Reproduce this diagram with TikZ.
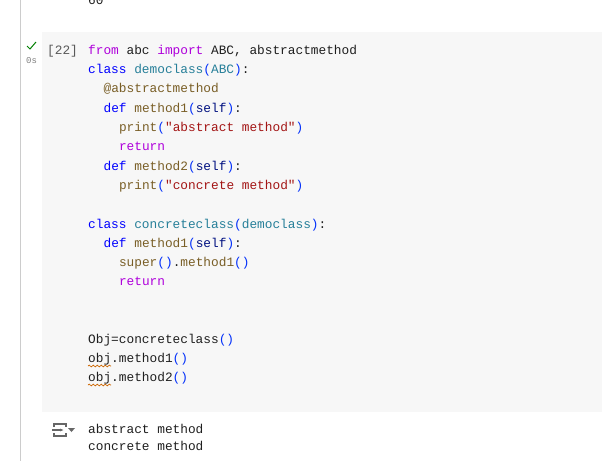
\documentclass[tikz,border=0pt]{standalone}
\usepackage{fontspec}
\setmainfont{Liberation Sans}
\newfontfamily\codefont{Liberation Mono}
\usetikzlibrary{decorations.pathmorphing,arrows.meta}
\definecolor{kwp}{HTML}{AF00DB}
\definecolor{kwb}{HTML}{0000FF}
\definecolor{cls}{HTML}{267F99}
\definecolor{deco}{HTML}{795E26}
\definecolor{strc}{HTML}{A31515}
\definecolor{par}{HTML}{0431FA}
\definecolor{slf}{HTML}{001080}
\definecolor{txt}{HTML}{1F1F1F}
\definecolor{cellbg}{HTML}{F7F7F7}
\newcommand{\Kp}[1]{\textcolor{kwp}{#1}}
\newcommand{\Kb}[1]{\textcolor{kwb}{#1}}
\newcommand{\Cl}[1]{\textcolor{cls}{#1}}
\newcommand{\Dc}[1]{\textcolor{deco}{#1}}
\newcommand{\St}[1]{\textcolor{strc}{#1}}
\newcommand{\Pa}[1]{\textcolor{par}{#1}}
\newcommand{\Sf}[1]{\textcolor{slf}{#1}}
\begin{document}
\begin{tikzpicture}[x=1pt,y=-1pt,
  code/.style={anchor=base west,inner sep=0pt,font=\codefont\fontsize{12.8}{14}\selectfont,text=txt},
  squig/.style={draw=orange!80!black,line width=0.7pt,decorate,decoration={snake,amplitude=0.9pt,segment length=4pt}}]
\useasboundingbox (0,0) rectangle (602,461);
\fill[white] (0,0) rectangle (602,461);
\draw[gray!40,line width=1pt] (20,0) -- (20,461);
\fill[cellbg] (42,32) rectangle (602,412);
\node[code] (prev) at (88,4) {60};
\draw[green!50!black,line width=1pt] (27,46) -- (30,49) -- (36,42);
\node[anchor=base west,inner sep=0pt,font=\codefont\fontsize{9}{10}\selectfont,text=gray] (tm) at (26,63) {0s};
\node[code,text=gray!70!black] (num) at (47,54) {[22]};
\node[code] (l1) at (88,54) {\Kp{from} abc \Kp{import} ABC, abstractmethod};
\node[code] (l2) at (88,73) {\Kb{class} \Cl{democlass}\Pa{(}\Cl{ABC}\Pa{)}:};
\node[code] (l3) at (103.4,92) {\Dc{@abstractmethod}};
\node[code] (l4) at (103.4,112) {\Kb{def} \Dc{method1}\Pa{(}\Sf{self}\Pa{)}:};
\node[code] (l5) at (118.8,131) {\Dc{print}\Pa{(}\St{"abstract method"}\Pa{)}};
\node[code] (l6) at (118.8,150) {\Kp{return}};
\node[code] (l7) at (103.4,170) {\Kb{def} \Dc{method2}\Pa{(}\Sf{self}\Pa{)}:};
\node[code] (l8) at (118.8,189) {\Dc{print}\Pa{(}\St{"concrete method"}\Pa{)}};
\node[code] (l10) at (88,228) {\Kb{class} \Cl{concreteclass}\Pa{(}\Cl{democlass}\Pa{)}:};
\node[code] (l11) at (103.4,247) {\Kb{def} \Dc{method1}\Pa{(}\Sf{self}\Pa{)}:};
\node[code] (l12) at (118.8,266) {\Dc{super}\Pa{()}.\Dc{method1}\Pa{()}};
\node[code] (l13) at (118.8,285) {\Kp{return}};
\node[code] (l16) at (88,343) {Obj=concreteclass\Pa{()}};
\node[code] (l17) at (88,362) {obj.method1\Pa{()}};
\node[code] (l18) at (88,381) {obj.method2\Pa{()}};
\draw[squig] (88,366) -- (111,366);
\draw[squig] (88,385) -- (111,385);
\draw[gray!80!black,line width=1.3pt] (54,427) -- (54,424) -- (66,424) -- (66,427);
\draw[gray!80!black,line width=1.3pt] (54,433) -- (54,436) -- (66,436) -- (66,433);
\draw[gray!80!black,line width=1.3pt,-{Latex[length=4pt]}] (52,430) -- (64,430);
\fill[gray!80!black] (68,428) -- (75,428) -- (71.5,432) -- cycle;
\node[code] (o1) at (88,433) {abstract method};
\node[code] (o2) at (88,450) {concrete method};
\end{tikzpicture}
\end{document}
